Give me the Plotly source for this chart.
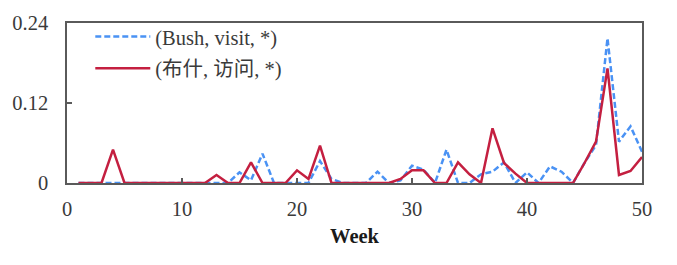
import plotly.graph_objects as go

weeks = list(range(1, 51))
bush_visit_en = [0, 0, 0, 0, 0, 0, 0, 0, 0, 0,
                 0, 0, 0, 0, 0.016, 0.004, 0.044, 0, 0, 0,
                 0, 0.033, 0.006, 0, 0, 0, 0.017, 0, 0.004, 0.026,
                 0.02, 0, 0.05, 0, 0, 0.013, 0.017, 0.031, 0, 0.016,
                 0, 0.025, 0.017, 0, 0.03, 0.057, 0.217, 0.062, 0.085, 0.047]
bush_visit_zh = [0, 0, 0, 0.05, 0, 0, 0, 0, 0, 0,
                 0, 0, 0.012, 0, 0, 0.031, 0, 0, 0, 0.019,
                 0.006, 0.056, 0, 0, 0, 0, 0, 0, 0.006, 0.019,
                 0.019, 0, 0, 0.031, 0.013, 0, 0.082, 0.03, 0.014, 0,
                 0, 0, 0, 0, 0.03, 0.062, 0.172, 0.012, 0.018, 0.039]
names = ["(Bush, visit, *)", "(布什, 访问, *)"]
x_ticks = [0, 10, 20, 30, 40, 50]
y_ticks = [0, 0.12, 0.24]
y_ticktext = ["0", "0.12", "0.24"]

FONT = "Liberation Serif, Times New Roman, Noto Sans CJK SC, serif"
AXIS_COLOR = "#5a5a5a"
TEXT_COLOR = "#3a3a3a"
FS = 20.5

fig = go.Figure()
fig.add_trace(go.Scatter(x=weeks, y=bush_visit_en, mode="lines", name=names[0],
                         legendgroup="a",
                         line=dict(color="#4a92f4", width=2.5, dash="6px,3px")))
fig.add_trace(go.Scatter(x=weeks, y=bush_visit_zh, mode="lines", name=names[1],
                         legendgroup="b",
                         line=dict(color="#c41f40", width=2.5)))

# page body has an 8px margin, so the figure is sized/offset to compensate
fig.update_layout(
    width=669, height=257,
    margin=dict(l=59, r=35, t=15, b=82, autoexpand=False),
    paper_bgcolor="white", plot_bgcolor="white",
    font=dict(family=FONT, size=FS, color=TEXT_COLOR),
    legend=dict(x=0.0405, y=1.039, xanchor="left", yanchor="top",
                bgcolor="rgba(0,0,0,0)", tracegroupgap=2, itemwidth=55,
                font=dict(family=FONT, size=FS, color=TEXT_COLOR)),
    xaxis=dict(range=[0, 50], tickvals=x_ticks, ticks="inside", ticklen=5,
               tickcolor=AXIS_COLOR, tickwidth=1.5, automargin=False,
               showline=True, linecolor=AXIS_COLOR, linewidth=1.5, mirror=True,
               showgrid=False, zeroline=False, ticklabelstandoff=7,
               title=dict(text="<b>Week</b>", standoff=9,
                          font=dict(family=FONT, size=FS, color="#1a1a1a"))),
    yaxis=dict(range=[0, 0.24], tickvals=y_ticks, ticktext=y_ticktext,
               ticks="inside", ticklen=5, tickcolor=AXIS_COLOR, tickwidth=1.5,
               automargin=False,
               showline=True, linecolor=AXIS_COLOR, linewidth=1.5, mirror=True,
               showgrid=False, zeroline=False, ticklabelstandoff=13),
)

fig.write_html("out.html")
